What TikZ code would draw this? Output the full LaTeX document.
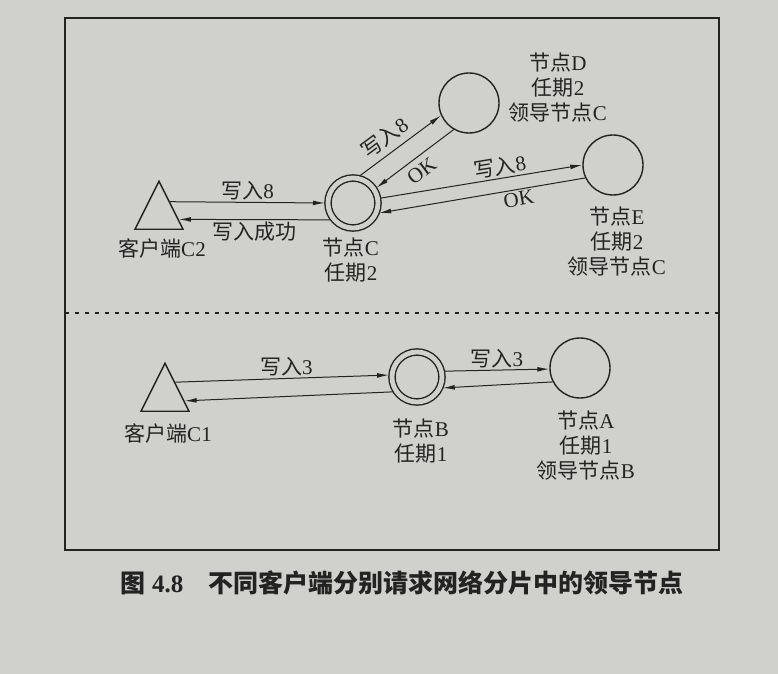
\documentclass[tikz,border=0pt]{standalone}
\usepackage{fontspec}
\setmainfont{Liberation Serif}
\newfontfamily\cjk{Noto Sans CJK SC}
\usetikzlibrary{arrows.meta,calc,shapes.geometric}
\newcommand{\zh}[1]{{\cjk #1}}
\definecolor{paper}{RGB}{208,208,205}
\definecolor{ink}{RGB}{35,35,35}

\begin{document}
\begin{tikzpicture}[x=0.5pt,y=-0.5pt,color=ink]
		\tikzstyle{peer}=[draw,circle,line width=0.7pt,minimum size=30pt,inner sep=0pt]
		\tikzstyle{leader}=[peer,double=paper,double distance=2.4pt,minimum size=25pt,outer sep=1.5pt]
		\tikzstyle{client}=[draw,isosceles triangle,isosceles triangle stretches,shape border rotate=90,minimum width=24pt,minimum height=24pt,inner sep=0pt,line width=0.7pt]
		\tikzstyle{txt}=[align=center,font=\fontsize{10.5}{12.5}\selectfont,inner sep=1pt]
		\tikzstyle{msg}=[-{Latex[length=6pt,width=2.4pt]},line width=0.5pt]
		\fill[paper] (0,0) rectangle (778,674);
		\useasboundingbox (0,0) rectangle (778,674);
		\draw[line width=1pt] (65,18) rectangle (719,550);
		\draw[line width=0.8pt,dash pattern=on 2pt off 3pt] (65,313) -- (719,313);

		\node[client,anchor=lower side] (C2) at (159,230) {};
		\node[leader] (C) at (353,203) {};
		\node[peer] (D) at (469,103) {};
		\node[peer] (E) at (613,165) {};
		\node[txt] (C2t) at (162,248) {\zh{客户端}C2};
		\node[txt] (Ct) at (351,260) {\zh{节点}C\\\zh{任期}2};
		\node[txt] (Dt) at (558,88) {\zh{节点}D\\\zh{任期}2\\\zh{领导节点}C};
		\node[txt] (Et) at (617,242) {\zh{节点}E\\\zh{任期}2\\\zh{领导节点}C};
		\coordinate (C2o) at ($(C2.apex)!0.44!(C2.right corner)$);
		\coordinate (C2i) at ($(C2.apex)!0.79!(C2.right corner)$);

		\draw[msg] (C2o) -- node[txt,above] (w1) {\zh{写入}8} (C.180);
		\draw[msg] (C.217) -- node[txt,below] (w2) {\zh{写入成功}} (C2i);
		\draw[msg] (C.76) -- node[txt,above=2pt,sloped,pos=0.42] (w3) {\zh{写入}8} (D.204);
		\draw[msg] (D.240) -- node[txt,below=2pt,sloped,pos=0.52] (ok1) {OK} (C.33);
		\draw[msg] (C.10) -- node[txt,above,sloped,pos=0.6] (w4) {\zh{写入}8} (E.180);
		\draw[msg] (E.205) -- node[txt,below,sloped,pos=0.33] (ok2) {OK} (C.339);

		\node[client,anchor=lower side] (C1) at (165,412) {};
		\node[leader] (B) at (417,377) {};
		\node[peer] (A) at (580,368) {};
		\node[txt] (C1t) at (168,433) {\zh{客户端}C1};
		\node[txt] (Bt) at (421,441) {\zh{节点}B\\\zh{任期}1};
		\node[txt] (At) at (586,446) {\zh{节点}A\\\zh{任期}1\\\zh{领导节点}B};
		\coordinate (C1o) at ($(C1.apex)!0.41!(C1.right corner)$);
		\coordinate (C1i) at ($(C1.apex)!0.78!(C1.right corner)$);

		\draw[msg] (C1o) -- node[txt,above,pos=0.52] (w5) {\zh{写入}3} (B.176);
		\draw[msg] (B.212) -- (C1i);
		\draw[msg] (B.12) -- node[txt,above] (w6) {\zh{写入}3} (A.182);
		\draw[msg] (A.207) -- (B.337);

		\node[font=\fontsize{12.5}{14}\selectfont\bfseries] (cap) at (402,583) {\zh{图} 4.8\quad\zh{不同客户端分别请求网络分片中的领导节点}};
	\end{tikzpicture}
\end{document}
